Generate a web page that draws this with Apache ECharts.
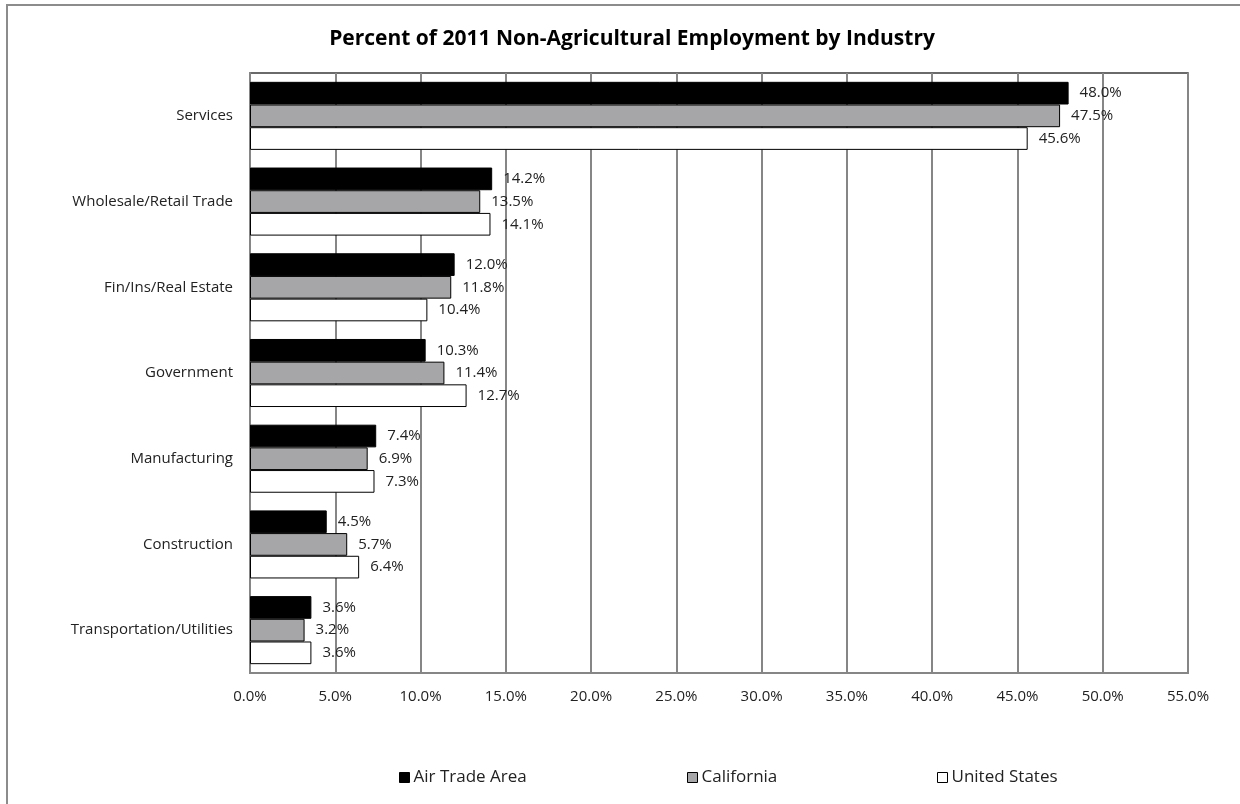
<!DOCTYPE html>
<html>
<head>
<meta charset="utf-8">
<title>Percent of 2011 Non-Agricultural Employment by Industry</title>
<script src="https://cdn.jsdelivr.net/npm/echarts@6/dist/echarts.min.js"></script>
<style>
  html, body { margin: 0; padding: 0; background: #fff; }
  #chart { width: 1240px; height: 804px; }
</style>
</head>
<body>
<div id="chart"></div>
<script>
// Industry categories, top to bottom
const industries = [
  'Services',
  'Wholesale/Retail Trade',
  'Fin/Ins/Real Estate',
  'Government',
  'Manufacturing',
  'Construction',
  'Transportation/Utilities'
];

// Share of non-agricultural employment (%), by area
const airTradeArea = [48.0, 14.2, 12.0, 10.3, 7.4, 4.5, 3.6];
const california   = [47.5, 13.5, 11.8, 11.4, 6.9, 5.7, 3.2];
const unitedStates = [45.6, 14.1, 10.4, 12.7, 7.3, 6.4, 3.6];

// Value axis ticks
const xTicks = [0, 5, 10, 15, 20, 25, 30, 35, 40, 45, 50, 55];

const FONT = '"Open Sans", "Noto Sans", sans-serif';

const chart = echarts.init(document.getElementById('chart'), null, { renderer: 'canvas' });

function barSeries(name, data, color) {
  return {
    name: name,
    type: 'bar',
    data: data,
    barGap: '0%',
    barCategoryGap: '20.6%',
    itemStyle: { color: color, borderColor: '#000', borderWidth: 1 },
    label: {
      show: true,
      position: 'right',
      distance: 11,
      color: '#222',
      fontFamily: FONT,
      fontSize: 15,
      formatter: p => p.value.toFixed(1) + '%'
    },
    emphasis: { disabled: true },
    animation: false
  };
}

function legendAt(name, left) {
  return {
    data: [name],
    left: left,
    top: 764,
    icon: 'rect',
    itemWidth: 10,
    itemHeight: 10,
    itemGap: 4,
    textStyle: { color: '#222', fontFamily: FONT, fontSize: 17, padding: [0, 0, 0, -1] },
    selectedMode: false,
    itemStyle: { borderColor: '#000', borderWidth: 1 }
  };
}

chart.setOption({
  backgroundColor: '#fff',
  animation: false,
  graphic: [{
    type: 'rect',
    shape: { x: 7, y: 5, width: 1300, height: 900 },
    style: { fill: 'none', stroke: '#8c8c8c', lineWidth: 2 },
    silent: true,
    z: -1
  }],
  title: {
    text: 'Percent of 2011 Non-Agricultural Employment by Industry',
    left: 627,
    top: 24,
    textAlign: 'center',
    textStyle: { fontFamily: FONT, fontSize: 21, fontWeight: 'bold', color: '#000' }
  },
  legend: [
    legendAt('Air Trade Area', 394),
    legendAt('California', 682),
    legendAt('United States', 932)
  ],
  grid: {
    left: 250,
    top: 73,
    width: 938,
    height: 600,
    show: true,
    borderColor: '#3a3a3a',
    borderWidth: 1.5,
    containLabel: false
  },
  xAxis: {
    type: 'value',
    min: xTicks[0],
    max: xTicks[xTicks.length - 1],
    interval: 5,
    axisLine: { show: true, lineStyle: { color: '#868686', width: 2 } },
    axisTick: { show: false },
    splitLine: { show: true, lineStyle: { color: '#868686', width: 2 } },
    axisLabel: {
      color: '#222',
      fontFamily: FONT,
      fontSize: 15,
      margin: 16,
      formatter: v => v.toFixed(1) + '%'
    }
  },
  yAxis: {
    type: 'category',
    data: industries,
    inverse: true,
    axisLine: { show: true, lineStyle: { color: '#868686', width: 2 } },
    axisTick: { show: false },
    splitLine: { show: false },
    axisLabel: {
      color: '#222',
      fontFamily: FONT,
      fontSize: 15,
      margin: 17
    }
  },
  series: [
    barSeries('Air Trade Area', airTradeArea, '#000000'),
    barSeries('California', california, '#a6a6a8'),
    barSeries('United States', unitedStates, '#ffffff')
  ]
});
</script>
</body>
</html>
